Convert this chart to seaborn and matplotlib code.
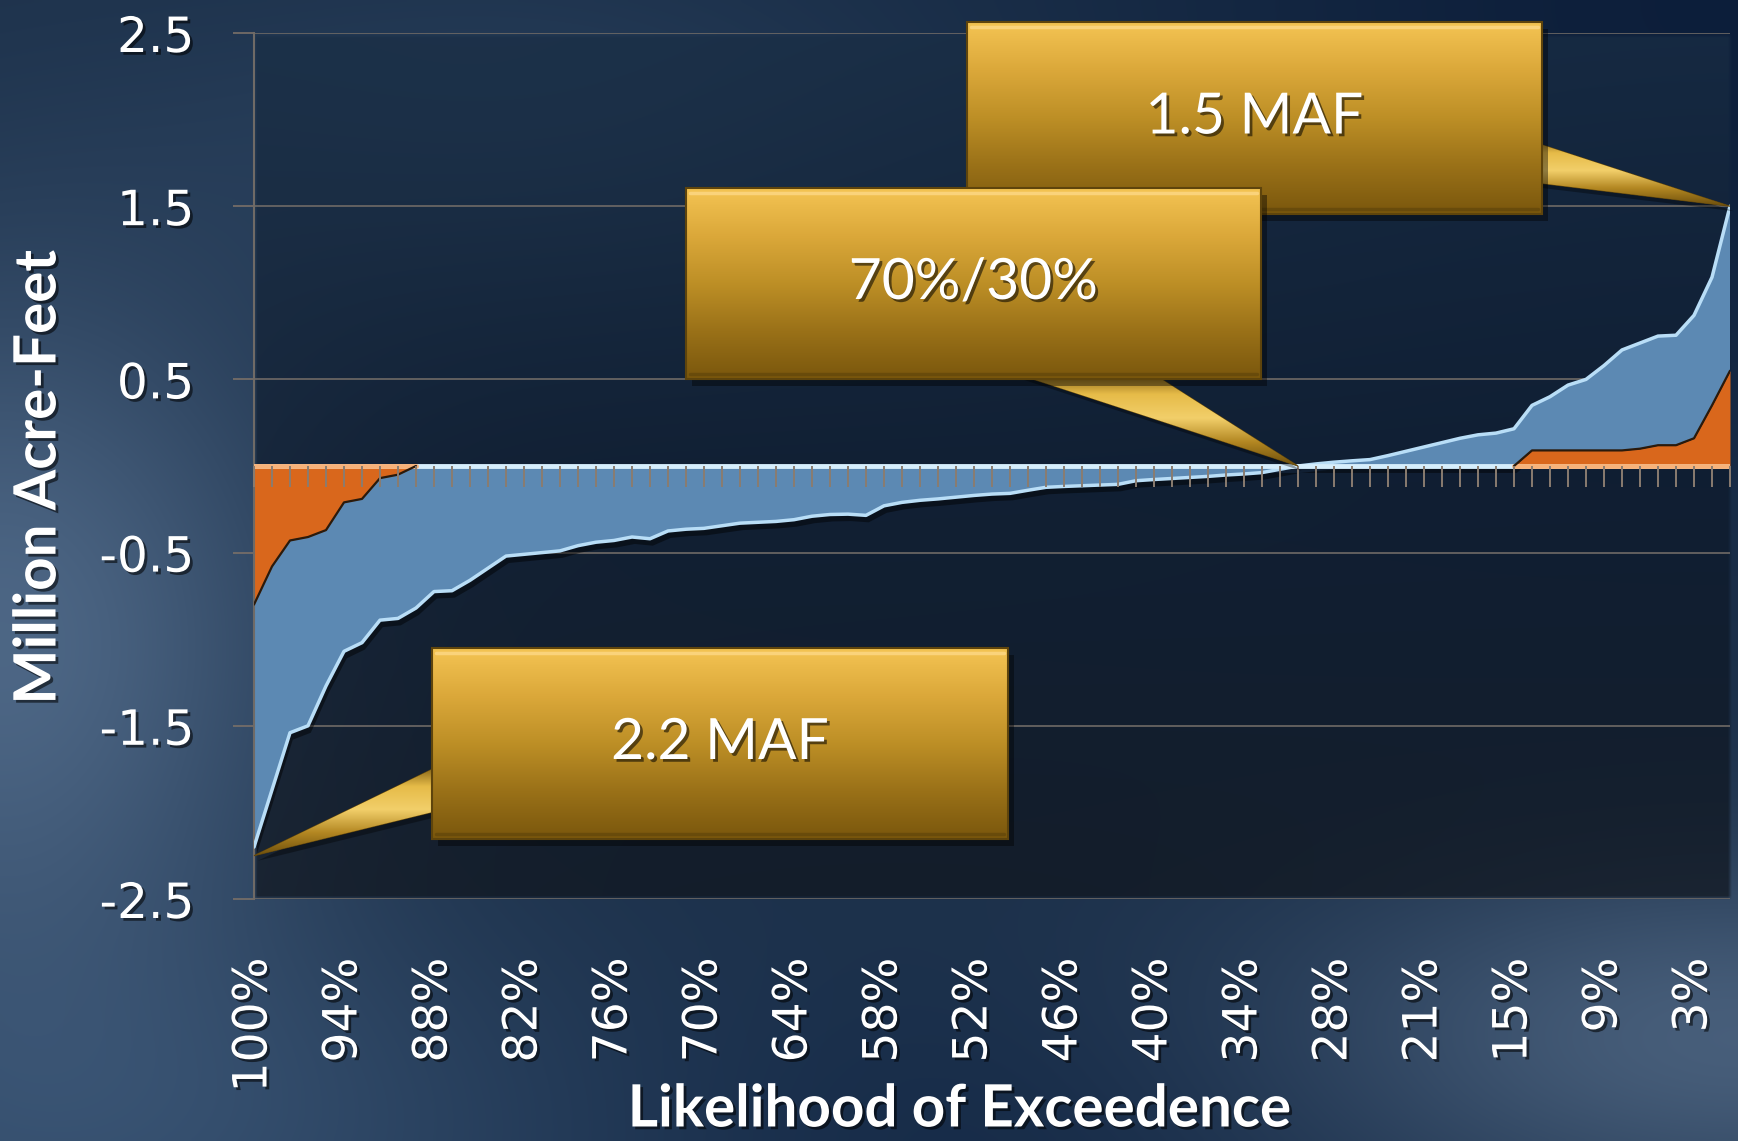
import numpy as np
import pandas as pd
import matplotlib
matplotlib.use("Agg")
import matplotlib.pyplot as plt
import matplotlib.patheffects as pe
from matplotlib.patches import Rectangle, Polygon
from matplotlib.colors import LinearSegmentedColormap
import seaborn as sns

# ---------------- data ----------------
exceedance_labels = ["100%", "94%", "88%", "82%", "76%", "70%", "64%", "58%", "52%",
                     "46%", "40%", "34%", "28%", "21%", "15%", "9%", "3%"]
label_step = 5

# top/bottom envelope of the stacked areas (orange + blue), million acre-feet
combined_maf = [-2.20, -1.87, -1.54, -1.50, -1.27, -1.07, -1.02, -0.89, -0.88, -0.82,
                -0.725, -0.72, -0.66, -0.59, -0.52, -0.51, -0.50, -0.49, -0.46, -0.44,
                -0.43, -0.41, -0.42, -0.375, -0.365, -0.36, -0.345, -0.33, -0.325, -0.32,
                -0.31, -0.29, -0.28, -0.278, -0.285, -0.23, -0.21, -0.198, -0.19, -0.18,
                -0.17, -0.162, -0.158, -0.14, -0.123, -0.118, -0.114, -0.11, -0.106, -0.085,
                -0.078, -0.072, -0.066, -0.06, -0.052, -0.046, -0.038, -0.019, 0.0, 0.012,
                0.022, 0.03, 0.037, 0.06, 0.085, 0.11, 0.135, 0.16, 0.18, 0.19,
                0.215, 0.35, 0.40, 0.467, 0.50, 0.58, 0.67, 0.71, 0.75, 0.755,
                0.87, 1.09, 1.50]
# orange series (bottom of the stack)
orange_maf = [-0.80, -0.58, -0.43, -0.41, -0.37, -0.21, -0.19, -0.07, -0.05, 0.0,
              0.0, 0.0, 0.0, 0.0, 0.0, 0.0, 0.0, 0.0, 0.0, 0.0,
              0.0, 0.0, 0.0, 0.0, 0.0, 0.0, 0.0, 0.0, 0.0, 0.0,
              0.0, 0.0, 0.0, 0.0, 0.0, 0.0, 0.0, 0.0, 0.0, 0.0,
              0.0, 0.0, 0.0, 0.0, 0.0, 0.0, 0.0, 0.0, 0.0, 0.0,
              0.0, 0.0, 0.0, 0.0, 0.0, 0.0, 0.0, 0.0, 0.0, 0.0,
              0.0, 0.0, 0.0, 0.0, 0.0, 0.0, 0.0, 0.0, 0.0, 0.0,
              0.0, 0.09, 0.09, 0.09, 0.09, 0.09, 0.09, 0.10, 0.12, 0.12,
              0.16, 0.35, 0.55]
y_ticks = [-2.5, -1.5, -0.5, 0.5, 1.5, 2.5]
y_label = "Million Acre-Feet"
x_label = "Likelihood of Exceedence"
callout_texts = ["1.5 MAF", "70%/30%", "2.2 MAF"]
callout_target_idx = [82, 58, 0]
callout_target_val = [1.5, 0.0, -2.25]

# ---------------- style ----------------
sns.set_theme(style="white")
plt.rcParams["font.family"] = ["DejaVu Sans"]

W, H, DPI = 1738, 1141, 100
fig = plt.figure(figsize=(W / DPI, H / DPI), dpi=DPI)
L, R, T, B = 254, 1730, 33, 899  # plot rectangle (px)

shadow_txt = [pe.SimplePatchShadow(offset=(2, -2), shadow_rgbFace="black", alpha=0.55), pe.Normal()]

# ---------------- background ----------------
bg = fig.add_axes([0, 0, 1, 1], zorder=0)
bg.set_axis_off()
hh, ww = 286, 435
yy, xx = np.mgrid[0:H:hh * 1j, 0:W:ww * 1j]


def blob(cx, cy, sx, sy):
    return np.exp(-0.5 * (((xx - cx) / sx) ** 2 + ((yy - cy) / sy) ** 2))[..., None]


img = np.zeros((hh, ww, 3)) + np.array([0.11, 0.19, 0.29])
img += blob(0, 640, 220, 260) * np.array([0.19, 0.21, 0.23])
img += blob(120, 1141, 380, 160) * np.array([0.08, 0.10, 0.12])
img += blob(1738, 1040, 320, 130) * np.array([0.17, 0.18, 0.19])
img -= blob(1738, 0, 450, 320) * np.array([0.06, 0.07, 0.06])
img -= blob(950, 1141, 300, 120) * np.array([0.03, 0.03, 0.02])
img += blob(520, 150, 260, 120) * np.array([0.04, 0.05, 0.06])
inside = ((xx >= L) & (xx <= R) & (yy >= T) & (yy <= B))[..., None]
t = np.clip((yy - T) / (B - T), 0, 1)[..., None]
top_c = np.array([0.10, 0.18, 0.27])
mid_c = np.array([0.05, 0.10, 0.17])
bot_c = np.array([0.06, 0.08, 0.11])
grad = np.where(t < 0.5, top_c + (mid_c - top_c) * (t / 0.5), mid_c + (bot_c - mid_c) * ((t - 0.5) / 0.5))
img = np.where(inside, 0.3 * img + 0.7 * grad, img)
img = np.clip(img, 0, 1)
bg.imshow(img, extent=[0, W, H, 0], aspect="auto", interpolation="bilinear")
bg.set_xlim(0, W)
bg.set_ylim(H, 0)

# ---------------- main chart ----------------
ax = fig.add_axes([L / W, 1 - B / H, (R - L) / W, (B - T) / H], zorder=2)
ax.patch.set_alpha(0)

df = pd.DataFrame({"idx": np.arange(len(combined_maf)),
                   "combined": combined_maf, "orange": orange_maf})
x = df["idx"].to_numpy()
comb = df["combined"].to_numpy()
org = df["orange"].to_numpy()

blue_poly = ax.fill_between(x, org, comb, color="#5c89b3", lw=0, zorder=2)
blue_poly.set_path_effects([pe.SimplePatchShadow(offset=(2, -5), shadow_rgbFace="black", alpha=0.45), pe.Normal()])
orange_poly = ax.fill_between(x, 0, org, color="#d9671c", lw=0, zorder=2.5)

# bevel highlights
sns.lineplot(x=x, y=comb, color="#b9def7", linewidth=2.5, ax=ax, zorder=3)
ax.axhline(0, color="#d6eefc", lw=3.5, zorder=3.2)
nz = org != 0
nz_d = nz | np.roll(nz, 1) | np.roll(nz, -1)
ax.plot(x, np.where(nz_d, 0.0, np.nan), color="#f7b27a", lw=3.5, zorder=3.3)
ax.plot(x, np.where(nz_d, org, np.nan), color="#2a1a0c", lw=1.6, zorder=3.4)

ax.set_xlim(0, len(x) - 1)
ax.set_ylim(-2.5, 2.5)

# category ticks hanging from the zero line
sec = ax.secondary_xaxis(0.5)
sec.set_xticks(x)
sec.tick_params(axis="x", direction="in", length=15, width=1.4, color="#8a7c70",
                labeltop=False, labelbottom=False, top=True, bottom=False)
for s in sec.spines.values():
    s.set_visible(False)
sec.set_zorder(4)

ax.set_xticks(x[::label_step])
ax.set_xticklabels(exceedance_labels, rotation=90, fontsize=34, color="white")
ax.tick_params(axis="x", length=0, pad=42)
ax.set_yticks(y_ticks)
ax.set_yticklabels([f"{v:.1f}" for v in y_ticks], fontsize=35, color="white")
ax.tick_params(axis="y", length=15, width=1.2, color="#7a7068", pad=28, left=True)
for lab in ax.get_xticklabels() + ax.get_yticklabels():
    lab.set_path_effects(shadow_txt)

ax.grid(axis="y", color="#6f6a66", lw=1.2)
ax.grid(axis="x", visible=False)
ax.set_axisbelow(True)
for side in ["top", "right", "bottom"]:
    ax.spines[side].set_visible(False)
ax.spines["left"].set_color("#6f6a66")
ax.spines["left"].set_linewidth(1.5)

fig.text(960 / W, 1 - 1110 / H, x_label, ha="center", va="center", fontsize=42,
         fontweight="bold", color="white", family=["Lato", "DejaVu Sans"], path_effects=shadow_txt)
fig.text(39 / W, 1 - 477 / H, y_label, ha="center", va="center", rotation=90, fontsize=42,
         fontweight="bold", color="white", family=["Lato", "DejaVu Sans"], path_effects=shadow_txt)

# ---------------- callouts ----------------
ov = fig.add_axes([0, 0, 1, 1], zorder=5)
ov.set_axis_off()
ov.set_xlim(0, W)
ov.set_ylim(H, 0)

gold_cmap = LinearSegmentedColormap.from_list(
    "gold", ["#f4c453", "#dba83a", "#bd8f26", "#9a7118", "#7a570d"])
tail_cmap = LinearSegmentedColormap.from_list(
    "goldtail", ["#6f500c", "#e6bb48", "#f2cf6a", "#b38722", "#6d4f0c"])

box_rects = [(967, 22, 575, 192), (686, 188, 575, 191), (432, 648, 576, 191)]
tail_bases = [[(1515, 136), (1530, 182)], [(1005, 370), (1147, 370)], [(445, 763), (445, 809)]]


def to_ov(i, v):
    disp = ax.transData.transform((i, v))
    return tuple(ov.transData.inverted().transform(disp))


gvert = np.linspace(0, 1, 256)[:, None]
for k, (bx, by, bw, bh) in enumerate(box_rects):
    tip = to_ov(callout_target_idx[k], callout_target_val[k])
    pts = tail_bases[k] + [tip]
    z = 6 + k * 3
    sh = Polygon([(px + 4, py + 5) for px, py in pts], closed=True, facecolor="black",
                 alpha=0.35, lw=0, zorder=z)
    ov.add_patch(sh)
    poly = Polygon(pts, closed=True, facecolor="#b88d24", edgecolor="#5e440c", lw=0.8, zorder=z + 0.1)
    ov.add_patch(poly)
    xs = [p[0] for p in pts]
    ys = [p[1] for p in pts]
    im = ov.imshow(gvert, cmap=tail_cmap, extent=[min(xs), max(xs), max(ys), min(ys)],
                   aspect="auto", zorder=z + 0.2, interpolation="bilinear")
    im.set_clip_path(poly)
    ov.add_patch(Rectangle((bx + 6, by + 7), bw, bh, facecolor="black", alpha=0.4, lw=0, zorder=z + 0.5))
    ov.imshow(gvert, cmap=gold_cmap, extent=[bx, bx + bw, by + bh, by], aspect="auto",
              zorder=z + 1, interpolation="bilinear")
    ov.add_patch(Rectangle((bx, by), bw, bh, facecolor="none", edgecolor="#5e440c", lw=1.5, zorder=z + 2))
    ov.plot([bx + 4, bx + bw - 4], [by + 5, by + 5], color="#ffdc8e", lw=2.5, alpha=0.7, zorder=z + 2)
    ov.plot([bx + 4, bx + bw - 4], [by + bh - 5, by + bh - 5], color="#5c420a", lw=2.5, alpha=0.6, zorder=z + 2)
    ov.text(bx + bw / 2, by + bh / 2, callout_texts[k], ha="center", va="center", fontsize=41,
            color="white", family=["Lato", "DejaVu Sans"], zorder=z + 2.5, path_effects=shadow_txt)

ov.set_xlim(0, W)
ov.set_ylim(H, 0)

fig.savefig("out.png", dpi=DPI)
